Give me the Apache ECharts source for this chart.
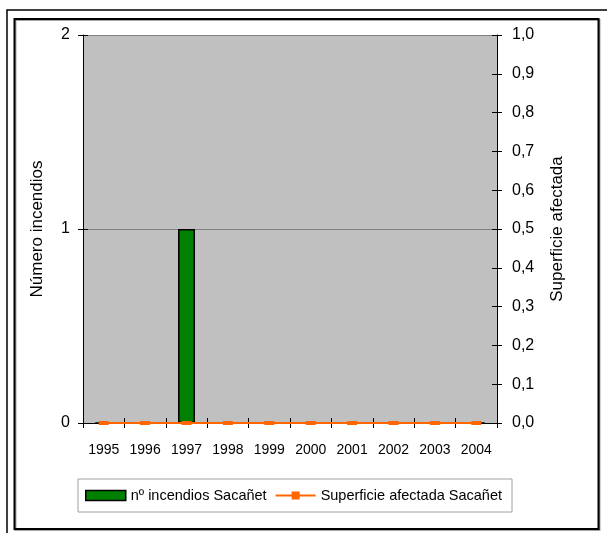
<!DOCTYPE html>
<html><head><meta charset="utf-8">
<script src="https://cdn.jsdelivr.net/npm/echarts@6/dist/echarts.min.js"></script>
<style>html,body{margin:0;padding:0;background:#fff}#c{width:607px;height:533px}</style>
</head><body><div id="c"></div>
<script>
const years = ['1995','1996','1997','1998','1999','2000','2001','2002','2003','2004'];
const numIncendios = [0,0,1,0,0,0,0,0,0,0];
const superficie = [0,0,0,0,0,0,0,0,0,0];
const barName = 'nº incendios Sacañet';
const lineName = 'Superficie afectada Sacañet';

const font = 'Liberation Sans, Arial, sans-serif';
const chart = echarts.init(document.getElementById('c'));
const commaFmt = v => v.toFixed(1).replace('.', ',');
chart.setOption({
  animation: false,
  backgroundColor: '#fff',
  graphic: [
    {type:'rect', shape:{x:7,y:10,width:640,height:560}, style:{fill:'none',stroke:'#000',lineWidth:1.5}, silent:true},
    {type:'rect', shape:{x:14.5,y:19,width:584,height:510}, style:{fill:'#fff',stroke:'#000',lineWidth:2, shadowColor:'rgba(0,0,0,0.35)', shadowOffsetX:1, shadowOffsetY:1}, silent:true, z:-1}
  ],
  grid: {left:83, right:110, top:35, bottom:110, show:true, backgroundColor:'#c0c0c0', borderWidth:0},
  legend: {
    left: 78, top: 479, orient:'horizontal',
    borderColor:'#a0a0a0', borderWidth:1, padding:[9,10,9,7],
    itemWidth:40, itemHeight:10, itemGap:8,
    textStyle:{fontFamily:font, fontSize:14.5, color:'#000'},
    data:[
      {name:barName, icon:'rect', itemStyle:{color:'#008000', borderColor:'#000', borderWidth:1.5}},
      {name:lineName}
    ]
  },
  xAxis: [
    {type:'category', data:years, boundaryGap:true,
     axisLine:{lineStyle:{color:'#000',width:1}},
     axisTick:{show:true, length:5, lineStyle:{color:'#000'}},
     axisLabel:{color:'#000', fontFamily:font, fontSize:14, margin:20},
     splitLine:{show:false}},
    {type:'category', data:years, boundaryGap:true, position:'bottom',
     axisLine:{show:false}, axisLabel:{show:false},
     axisTick:{show:true, inside:true, length:5, lineStyle:{color:'#000'}}}
  ],
  yAxis: [
    {type:'value', min:0, max:2, interval:1, position:'left',
     name:'Número incendios', nameLocation:'middle', nameGap:37,
     nameTextStyle:{fontFamily:font, fontSize:17, color:'#000'},
     axisLine:{show:true, lineStyle:{color:'#000'}},
     axisTick:{show:true, length:5, lineStyle:{color:'#000'}},
     axisLabel:{color:'#000', fontFamily:font, fontSize:16, margin:13},
     splitLine:{show:true, lineStyle:{color:'#808080', width:1}}},
    {type:'value', min:0, max:1, interval:0.1, position:'right',
     name:'Superficie afectada', nameLocation:'middle', nameGap:52, nameRotate:90,
     nameTextStyle:{fontFamily:font, fontSize:17, color:'#000'},
     axisLine:{show:true, lineStyle:{color:'#000'}},
     axisTick:{show:true, length:5, lineStyle:{color:'#000'}},
     axisLabel:{color:'#000', fontFamily:font, fontSize:16, margin:15, formatter:commaFmt},
     splitLine:{show:false}},
    {type:'value', min:0, max:2, interval:1, position:'left',
     axisLine:{show:false}, axisLabel:{show:false}, splitLine:{show:false},
     axisTick:{show:true, inside:true, length:5, lineStyle:{color:'#000'}}},
    {type:'value', min:0, max:1, interval:0.1, position:'right',
     axisLine:{show:false}, axisLabel:{show:false}, splitLine:{show:false},
     axisTick:{show:true, inside:true, length:5, lineStyle:{color:'#000'}}}
  ],
  series: [
    {name:barName, type:'bar', data:numIncendios, yAxisIndex:0, barWidth:'41%',
     itemStyle:{color:'#008000', borderColor:'#000', borderWidth:1.5}},
    {name:lineName, type:'line', data:superficie, yAxisIndex:1,
     symbol:'rect', symbolSize:[10,4], showSymbol:true,
     lineStyle:{color:'#ff6600', width:2},
     itemStyle:{color:'#ff6600'}, z:5}
  ]
});
</script></body></html>
